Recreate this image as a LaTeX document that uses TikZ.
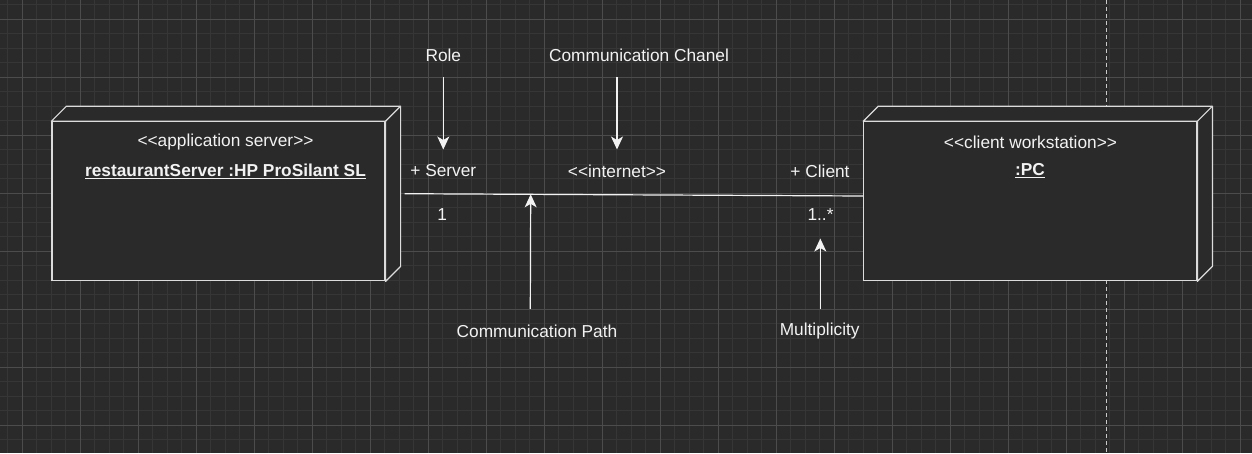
\documentclass[tikz,border=0pt]{standalone}
\usepackage{fontspec}
\setmainfont{Liberation Sans}[Ligatures=TeXOff]
\usetikzlibrary{arrows.meta}
\definecolor{canvas}{HTML}{2A2A2A}
\definecolor{gridmin}{HTML}{363636}
\definecolor{gridmaj}{HTML}{4C4C4C}
\definecolor{ink}{HTML}{F2F2F2}
\definecolor{edge}{HTML}{DCDCDC}
\begin{document}
\begin{tikzpicture}[x=1pt, y=-1pt,
    txt/.style = {text=ink, font=\fontsize{17.3}{20}\selectfont, inner sep=0pt},
    title/.style = {txt, font=\fontsize{17.3}{20}\selectfont\bfseries},
    note/.style = {txt, minimum height=44pt},
    box/.style = {draw=edge, fill=canvas, line width=1.2pt, minimum width=333pt, minimum height=159pt, inner sep=0pt},
    side/.style = {draw=edge, fill=canvas, line width=1.2pt, line join=round},
    link/.style = {draw=ink, line width=1.2pt},
    pointer/.style = {draw=ink, line width=1.2pt, -{Stealth[length=13pt,width=12pt,inset=3.5pt]}}]
	\fill[canvas] (0,0) rectangle (1252,453);
	\useasboundingbox (0,0) rectangle (1252,453);
	% grid
	\foreach \i in {0,...,85} \draw[gridmin, line width=0.8pt] (7.8+14.5*\i,0) -- (7.8+14.5*\i,453);
	\foreach \i in {0,...,30} \draw[gridmin, line width=0.8pt] (0,4.8+14.5*\i) -- (1252,4.8+14.5*\i);
	\foreach \i in {0,...,21} \draw[gridmaj, line width=0.9pt] (22.3+58*\i,0) -- (22.3+58*\i,453);
	\foreach \i in {0,...,7} \draw[gridmaj, line width=0.9pt] (0,19.3+58*\i) -- (1252,19.3+58*\i);
	\draw[edge!90!canvas, line width=0.8pt, dash pattern=on 4pt off 3pt] (1106.7,0) -- (1106.7,453);
	% nodes
	\node[box] (srv) at (218.5,201.3) {};
	\filldraw[side] (srv.north west) -- ++(15,-15) -- ([shift={(15,-15)}]srv.north east) -- ([shift={(15,-15)}]srv.south east) -- (srv.south east) -- (srv.north east) -- cycle;
	\draw[side] (srv.north east) -- ++(15,-15);
	\node[txt] (srvType) at (225.5,142) {<<application server>>};
	\node[title] (srvName) at (225.5,171) {\underline{restaurantServer :HP ProSilant SL}};
	\node[box] (cli) at (1030.3,201.3) {};
	\filldraw[side] (cli.north west) -- ++(15,-15) -- ([shift={(15,-15)}]cli.north east) -- ([shift={(15,-15)}]cli.south east) -- (cli.south east) -- (cli.north east) -- cycle;
	\draw[side] (cli.north east) -- ++(15,-15);
	\node[txt] (cliType) at (1030.5,142) {<<client workstation>>};
	\node[title] (cliName) at (1030,171) {\underline{:PC}};
	% communication path
	\draw[link] ([xshift=19pt, yshift=7.6pt]srv.east) -- ([yshift=5.3pt]cli.west) coordinate[pos=.275] (pathTip);
	\node[txt] (srvRole) at (443.3,171) {+ Server};
	\node[txt] (chan) at (617,171) {<<internet>>};
	\node[txt] (cliRole) at (820,171) {+ Client};
	\node[txt] (srvMul) at (442.3,215) {1};
	\node[txt] (cliMul) at (820.5,215) {1..*};
	% notes
	\node[note] (role) at (443.3,55) {Role};
	\node[note] (chanel) at (639,55) {Communication Chanel};
	\node[note] (path) at (537,331) {Communication Path};
	\node[note] (mult) at (819.7,331) {Multiplicity};
	\coordinate (roleTip) at (443.3,149.5);
	\coordinate (chanTip) at (617,149.5);
	\coordinate (multTip) at (820.3,238.5);
	\draw[pointer] (role.south) -- (roleTip);
	\draw[pointer] ([xshift=-22pt]chanel.south) -- (chanTip);
	\draw[pointer] ([xshift=-6.7pt]path.north) -- (pathTip);
	\draw[pointer] ([xshift=0.6pt]mult.north) -- (multTip);
\end{tikzpicture}
\end{document}
